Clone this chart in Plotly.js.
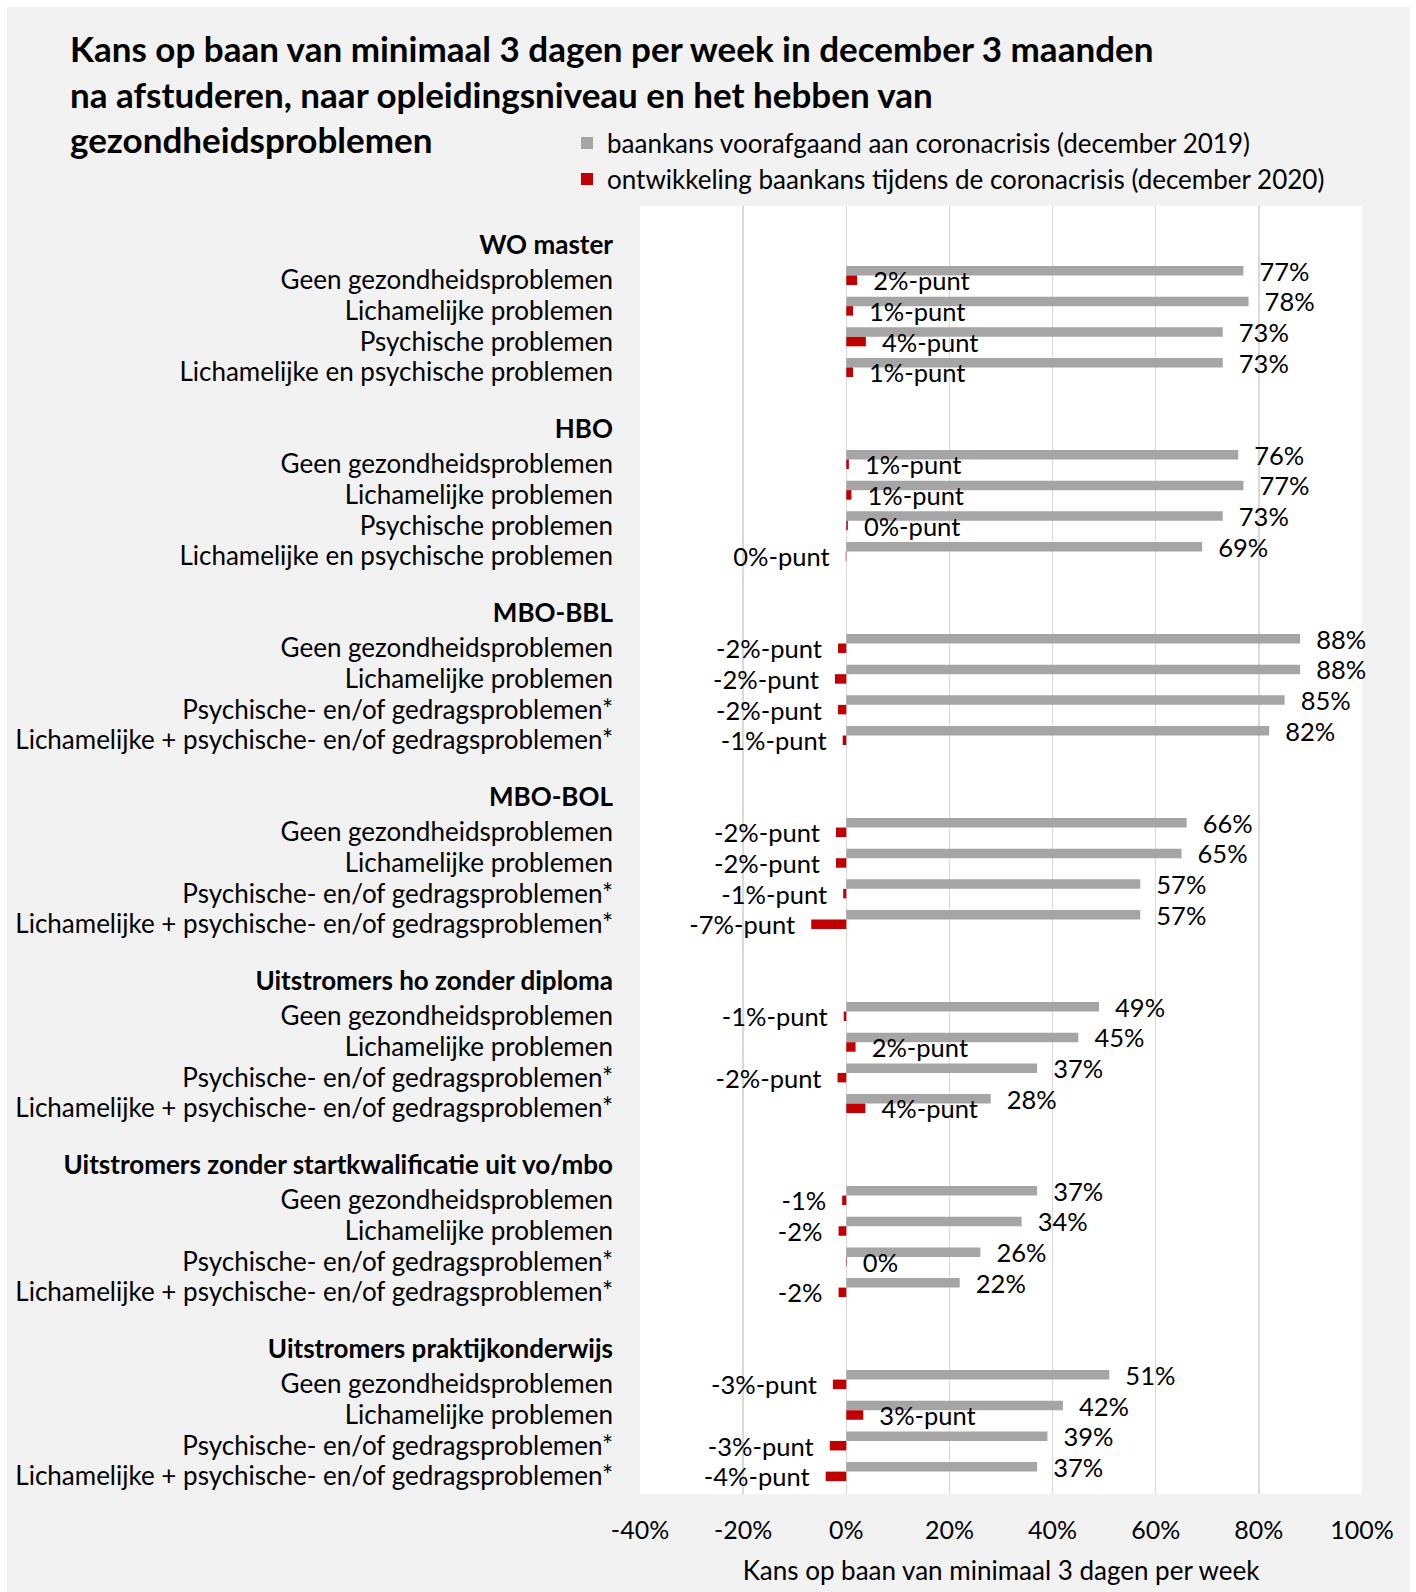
<!DOCTYPE html>
<html>
<head>
<meta charset="utf-8">
<script src="https://cdn.plot.ly/plotly-3.0.1.min.js"></script>
<style>
  html, body { margin: 0; padding: 0; background: #ffffff; }
  #bg { position: absolute; left: 7px; top: 7px; width: 1403px; height: 1585px; background: #f2f2f2; }
  #chart { position: absolute; left: 0; top: 0; width: 1416px; height: 1592px; }
</style>
</head>
<body>
<div id="bg"></div>
<div id="chart"></div>
<script>
// ---------- DATA ----------
const chartTitle = 'Kans op baan van minimaal 3 dagen per week in december 3 maanden<br>na afstuderen, naar opleidingsniveau en het hebben van<br>gezondheidsproblemen';
const xAxisTitle = 'Kans op baan van minimaal 3 dagen per week';
const seriesNames = ['baankans voorafgaand aan coronacrisis (december 2019)',
                     'ontwikkeling baankans tijdens de coronacrisis (december 2020)'];

const groups = ['WO master', 'HBO', 'MBO-BBL', 'MBO-BOL',
                'Uitstromers ho zonder diploma',
                'Uitstromers zonder startkwalificatie uit vo/mbo',
                'Uitstromers praktijkonderwijs'];

const subcatsHO  = ['Geen gezondheidsproblemen', 'Lichamelijke problemen',
                    'Psychische problemen', 'Lichamelijke en psychische problemen'];
const subcatsMBO = ['Geen gezondheidsproblemen', 'Lichamelijke problemen',
                    'Psychische- en/of gedragsproblemen*',
                    'Lichamelijke + psychische- en/of gedragsproblemen*'];
const groupSubcats = [subcatsHO, subcatsHO, subcatsMBO, subcatsMBO, subcatsMBO, subcatsMBO, subcatsMBO];

// baankans december 2019 (%), per group, 4 subcategories each
const baseline2019 = [
  77, 78, 73, 73,
  76, 77, 73, 69,
  88, 88, 85, 82,
  66, 65, 57, 57,
  49, 45, 37, 28,
  37, 34, 26, 22,
  51, 42, 39, 37
];

// ontwikkeling december 2020 (%-punt)
const change2020 = [
   2.1,  1.3,  3.8,  1.3,
   0.5,  1.0,  0.3, -0.1,
  -1.6, -2.2, -1.6, -0.7,
  -2.0, -2.0, -0.6, -6.8,
  -0.5,  1.8, -1.7,  3.7,
  -0.8, -1.5,  0.1, -1.5,
  -2.6,  3.3, -3.2, -4.0
];

const changeLabels = [
  '2%-punt', '1%-punt', '4%-punt', '1%-punt',
  '1%-punt', '1%-punt', '0%-punt', '0%-punt',
  '-2%-punt', '-2%-punt', '-2%-punt', '-1%-punt',
  '-2%-punt', '-2%-punt', '-1%-punt', '-7%-punt',
  '-1%-punt', '2%-punt', '-2%-punt', '4%-punt',
  '-1%', '-2%', '0%', '-2%',
  '-3%-punt', '3%-punt', '-3%-punt', '-4%-punt'
];

const xTickVals = [-40, -20, 0, 20, 40, 60, 80, 100];
const xTickText = ['-40%', '-20%', '0%', '20%', '40%', '60%', '80%', '100%'];

// ---------- BUILD ----------
const NB = '\u00a0';
const PAD = NB + NB;
const FONT = 'Lato, "Open Sans", sans-serif';
const SLOTS_PER_GROUP = 6; // header, 4 rows, blank
const ROW_LABEL_SHIFT = 0.15; // row labels sit slightly below the bar pair centre

const ySlots = [];
const tickVals = [];
const tickText = [];
groups.forEach((g, gi) => {
  const head = gi * SLOTS_PER_GROUP;
  tickVals.push(head);
  tickText.push('<b>' + g + '</b>');
  groupSubcats[gi].forEach((s, si) => {
    const slot = head + 1 + si;
    ySlots.push(slot);
    tickVals.push(slot + ROW_LABEL_SHIFT);
    tickText.push(s);
  });
});

const grayText = baseline2019.map(v => PAD + v + '%');
const redText = change2020.map((v, i) => v < 0 ? changeLabels[i] + PAD : PAD + changeLabels[i]);

const traces = [
  {
    type: 'bar', orientation: 'h',
    y: ySlots, x: baseline2019,
    name: seriesNames[0],
    marker: { color: '#a5a5a5' },
    text: grayText, textposition: 'outside',
    textfont: { family: FONT, size: 25.5, color: '#000' },
    constraintext: 'none', cliponaxis: false,
    hoverinfo: 'skip', legend: 'legend'
  },
  {
    type: 'bar', orientation: 'h',
    y: ySlots, x: change2020,
    name: seriesNames[1],
    marker: { color: '#c00000' },
    text: redText, textposition: 'outside',
    textfont: { family: FONT, size: 25.5, color: '#000' },
    constraintext: 'none', cliponaxis: false,
    hoverinfo: 'skip', legend: 'legend2'
  }
];

const W = 1416, H = 1592;
const L = 640, R = 54, T = 206, B = 98;
const plotH = H - T - B, plotW = W - L - R;

const layout = {
  width: W, height: H,
  paper_bgcolor: 'rgba(0,0,0,0)',
  plot_bgcolor: '#ffffff',
  margin: { l: L, r: R, t: T, b: B, pad: 0 },
  font: { family: FONT, color: '#000', size: 26 },
  title: {
    text: chartTitle,
    xref: 'container', x: 70 / W, xanchor: 'left',
    yref: 'container', y: 1 - 62 / H, yanchor: 'top',
    font: { family: FONT, size: 35, weight: 700, color: '#000' }
  },
  barmode: 'group', bargap: 0.38, bargroupgap: 0,
  xaxis: {
    range: [-40, 100],
    tickvals: xTickVals, ticktext: xTickText,
    showgrid: true, gridcolor: '#d9d9d9', gridwidth: 1.5,
    zeroline: false, showline: false, ticks: '',
    ticklabelstandoff: 19,
    tickfont: { family: FONT, size: 25, color: '#000' },
    title: { text: xAxisTitle, standoff: 18, font: { family: FONT, size: 26, color: '#000' } },
    fixedrange: true
  },
  yaxis: {
    range: [40.73, -1.265],
    tickvals: tickVals, ticktext: tickText,
    showgrid: false, zeroline: false, showline: false, ticks: '',
    ticklabelstandoff: 26,
    tickfont: { family: FONT, size: 26, color: '#000' },
    fixedrange: true
  },
  showlegend: true,
  legend: {
    x: (567 - L) / plotW, xanchor: 'left',
    y: (H - B - 143) / plotH, yanchor: 'middle',
    bgcolor: 'rgba(0,0,0,0)', borderwidth: 0,
    font: { family: FONT, size: 26, color: '#000' }, itemwidth: 30
  },
  legend2: {
    x: (567 - L) / plotW, xanchor: 'left',
    y: (H - B - 179) / plotH, yanchor: 'middle',
    bgcolor: 'rgba(0,0,0,0)', borderwidth: 0,
    font: { family: FONT, size: 26, color: '#000' }, itemwidth: 30
  }
};

Plotly.newPlot('chart', traces, layout, { displayModeBar: false, staticPlot: true });
</script>
</body>
</html>
